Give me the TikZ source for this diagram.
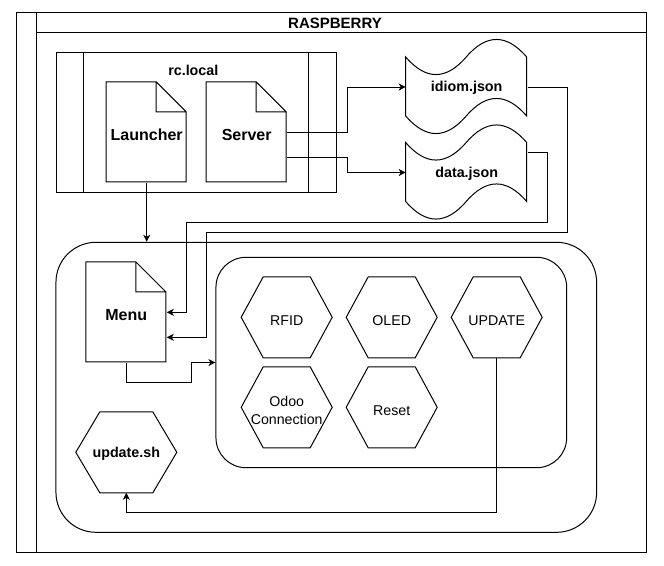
\documentclass[tikz,border=0pt]{standalone}
\usepackage{fontspec}
\setmainfont{Liberation Sans}
\usetikzlibrary{arrows.meta}
\tikzset{%
  page/.style={rectangle, inner sep=0pt, minimum width=80pt, minimum height=100pt, text height=16.5pt, text depth=0pt, font=\fontsize{16}{18}\selectfont\bfseries},
  tapebox/.style={rectangle, inner sep=0pt, minimum width=121pt, minimum height=98pt, text height=12pt, text depth=3pt, font=\fontsize{14.3}{16}\selectfont\bfseries},
  hexa/.style={rectangle, inner sep=0pt, minimum width=90pt, minimum height=80pt, align=center, text height=16.8pt, text depth=0pt, font=\fontsize{14.2}{18}\selectfont},
  group/.style={draw, rectangle, inner sep=0pt},
  arr/.style={-{Stealth[length=7pt,width=7pt,inset=2pt]}}
}
\newcommand\pageoutline[1]{%
  \draw[shift={(#1.north west)}] (0,0) -- (50,0) -- (80,30) -- (80,100) -- (0,100) -- cycle
    (50,0) -- (50,30) -- (80,30);}
\newcommand\hexoutline[2]{%
  \draw ([xshift=#2]#1.north west) -- ([xshift=-#2]#1.north east) -- (#1.east)
    -- ([xshift=-#2]#1.south east) -- ([xshift=#2]#1.south west) -- (#1.west) -- cycle;}
\newcommand\tapeoutline[1]{%
  \draw[shift={(#1.north west)}] (0,19.5)
    .. controls (20.2,42.9) and (40.3,42.9) .. (60.5,19.5)
    .. controls (80.7,-3.9) and (100.8,-3.9) .. (121,19.5)
    -- (121,78.5)
    .. controls (100.8,55.1) and (80.7,55.1) .. (60.5,78.5)
    .. controls (40.3,101.9) and (20.2,101.9) .. (0,78.5) -- cycle;}
\begin{document}
\begin{tikzpicture}[x=1pt, y=-1pt, line width=1pt]
  \useasboundingbox (0,0) rectangle (664,565);
  % pool
  \draw (16,12) rectangle (646.7,552.3);
  \draw (36,12) -- (36,552.3) (36,32.3) -- (646.7,32.3);
  \node[font=\fontsize{15}{17}\selectfont\bfseries] (title) at (335,23.5) {RASPBERRY};

  % rc.local
  \node[group, minimum width=280pt, minimum height=140pt] (rclocal) at (196.7,122.3) {};
  \draw ([xshift=27.6pt]rclocal.north west) -- ([xshift=27.6pt]rclocal.south west)
    ([xshift=-28.4pt]rclocal.north east) -- ([xshift=-28.4pt]rclocal.south east);
  \node[font=\fontsize{14.3}{16}\selectfont\bfseries] (rclabel) at (193.3,70) {rc.local};
  \node[page] (launcher) at (146.7,132.3) {Launcher};
  \node[page] (server) at (246.7,132.3) {Server};
  \pageoutline{launcher}
  \pageoutline{server}

  \node[tapebox] (idiom) at (466.7,87) {idiom.json};
  \node[tapebox] (data) at (466.7,172.5) {data.json};
  \tapeoutline{idiom}
  \tapeoutline{data}

  % main program
  \node[group, rounded corners=40pt, minimum width=540.7pt, minimum height=290pt] (core) at (326.3,387.3) {};
  \node[group, rounded corners=30pt, minimum width=350.7pt, minimum height=210.4pt] (modules) at (391.3,362.5) {};
  \node[page] (menu) at (126.3,312.3) {Menu};
  \pageoutline{menu}

  \node[hexa] (rfid) at (286.7,317.3) {RFID};
  \node[hexa] (oled) at (391.7,317.3) {OLED};
  \node[hexa] (update) at (496.7,317.3) {UPDATE};
  \node[hexa, text height=33.4pt] (odoo) at (286.7,407.3) {Odoo\\Connection};
  \node[hexa] (reset) at (391.7,407.3) {Reset};
  \node[hexa, minimum width=100pt, text height=12.5pt, text depth=3pt, font=\fontsize{14.3}{16}\selectfont\bfseries] (updatesh) at (126.3,452.3) {update.sh};
  \foreach \n in {rfid,oled,update,odoo,reset} {\hexoutline{\n}{22pt}}
  \hexoutline{updatesh}{24pt}

  % links
  \draw[arr] (launcher.south) -- (launcher.south |- core.north);
  \draw[arr] (server.east) -- ++(60,0) |- (idiom.west);
  \draw[arr] ([yshift=-25pt]server.east) -- ++(60,0) |- (data.west);
  \draw[arr] (idiom.east) -| ++(40,145.3) -| ([xshift=40pt,yshift=-25pt]menu.east) -- ([yshift=-25pt]menu.east);
  \draw[arr] ([yshift=20pt]data.east) -| ++(20,69.8) -| ([xshift=20pt]menu.east) -- (menu.east);
  \draw[arr] (menu.south) -- ++(0,20) -| ([xshift=-24.3pt]modules.west) -- (modules.west);
  \draw[arr] (update.south) -- ++(0,155) -| (updatesh.south);
\end{tikzpicture}
\end{document}
